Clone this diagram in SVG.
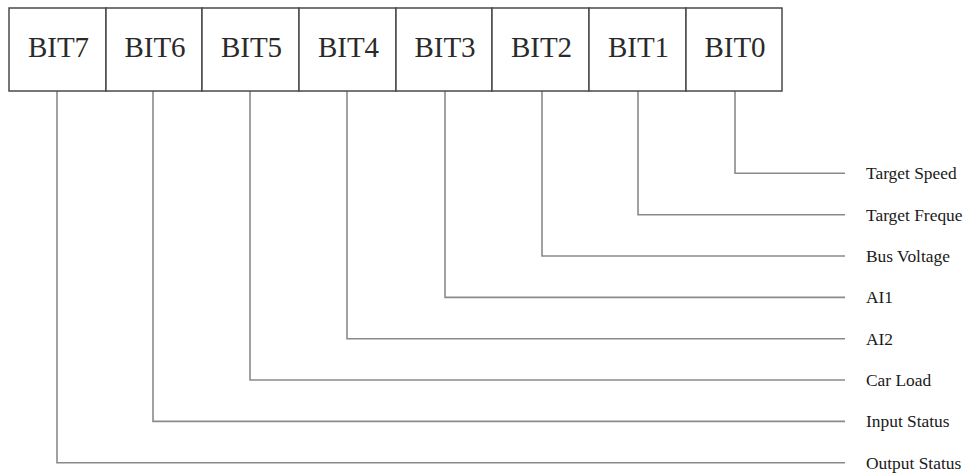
<svg xmlns="http://www.w3.org/2000/svg" width="963" height="474" viewBox="0 0 963 474">
<style>
.cell{fill:#fff;stroke:#4a4a4a;stroke-width:1.5}
.bit{font-family:"Liberation Serif","Times New Roman",serif;font-size:29px;fill:#2a2a2a;text-anchor:middle}
.lbl{font-family:"Liberation Serif","Times New Roman",serif;font-size:17.4px;fill:#1a1a1a}
.conn{fill:none;stroke:#8a8a8a;stroke-width:1.6}
</style>
<rect width="963" height="474" fill="#fff"/>
<g id="connectors">
<polyline class="conn" points="735,91 735,173.3 845,173.3"/>
<polyline class="conn" points="638,91 638,214.7 845,214.7"/>
<polyline class="conn" points="542,91 542,256 845,256"/>
<polyline class="conn" points="445,91 445,297.4 845,297.4"/>
<polyline class="conn" points="347,91 347,338.7 845,338.7"/>
<polyline class="conn" points="250,91 250,380 845,380"/>
<polyline class="conn" points="153,91 153,421.4 845,421.4"/>
<polyline class="conn" points="57,91 57,462.7 845,462.7"/>
</g>
<g id="bit7"><rect class="cell" x="9" y="8" width="97" height="83"/><text class="bit" x="58.5" y="56.5">BIT7</text></g>
<g id="bit6"><rect class="cell" x="106" y="8" width="96" height="83"/><text class="bit" x="155" y="56.5">BIT6</text></g>
<g id="bit5"><rect class="cell" x="202" y="8" width="97" height="83"/><text class="bit" x="251.5" y="56.5">BIT5</text></g>
<g id="bit4"><rect class="cell" x="299" y="8" width="97" height="83"/><text class="bit" x="348.5" y="56.5">BIT4</text></g>
<g id="bit3"><rect class="cell" x="396" y="8" width="96" height="83"/><text class="bit" x="445" y="56.5">BIT3</text></g>
<g id="bit2"><rect class="cell" x="492" y="8" width="97" height="83"/><text class="bit" x="541.5" y="56.5">BIT2</text></g>
<g id="bit1"><rect class="cell" x="589" y="8" width="97" height="83"/><text class="bit" x="638.5" y="56.5">BIT1</text></g>
<g id="bit0"><rect class="cell" x="686" y="8" width="96" height="83"/><text class="bit" x="735" y="56.5">BIT0</text></g>
<g id="labels">
<text class="lbl" x="866" y="179.3">Target Speed</text>
<text class="lbl" x="866" y="220.7">Target Freque</text>
<text class="lbl" x="866" y="262">Bus Voltage</text>
<text class="lbl" x="866" y="303.4">AI1</text>
<text class="lbl" x="866" y="344.7">AI2</text>
<text class="lbl" x="866" y="386">Car Load</text>
<text class="lbl" x="866" y="427.4">Input Status</text>
<text class="lbl" x="866" y="468.7">Output Status</text>
</g>
</svg>
